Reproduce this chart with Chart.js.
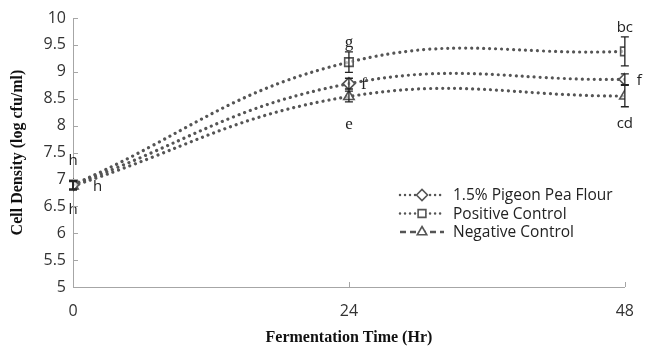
<!DOCTYPE html>
<html>
<head>
<meta charset="utf-8">
<script src="https://cdn.jsdelivr.net/npm/chart.js@4"></script>
<style>
  html, body { margin: 0; padding: 0; background: #fff; }
  #wrap { width: 649px; height: 349px; position: relative; }
</style>
</head>
<body>
<div id="wrap"><canvas id="c"></canvas></div>
<script>
// data
const hours = [0, 24, 48];
const flour = [6.90, 8.78, 8.86];
const positive = [6.90, 9.18, 9.38];
const negative = [6.88, 8.54, 8.55];
const flourErr = [0.08, 0.1, 0.1];
const positiveErr = [0.08, 0.19, 0.27];
const negativeErr = [0.08, 0.1, 0.2];
const flourLetters = ['h', 'f', 'f'];
const positiveLetters = ['h', 'g', 'bc'];
const negativeLetters = ['h', 'e', 'cd'];
const yTicks = [5, 5.5, 6, 6.5, 7, 7.5, 8, 8.5, 9, 9.5, 10];
const seriesNames = ['1.5% Pigeon Pea Flour', 'Positive Control', 'Negative Control'];

const GREY = '#555555';
const sansFont = '"Open Sans", "Liberation Sans", sans-serif';
const serifFont = '"Liberation Serif", "Times New Roman", serif';

const pts = (ys) => hours.map((h, i) => ({ x: h, y: ys[i] }));

const mkSet = (label, ys, style, err, letters, place) => ({
    label,
    data: pts(ys),
    borderColor: GREY,
    borderWidth: 3.2,
    borderDash: [0.01, 6],
    borderCapStyle: 'round',
    tension: 0.42,
    pointStyle: style,
    pointRadius: 6,
    pointHoverRadius: 6,
    pointBorderWidth: 1.6,
    pointBorderColor: GREY,
    pointBackgroundColor: 'rgba(255,255,255,0.6)',
    err, letters, place,
    fill: false
});

// error bars + significance letters
const extras = {
    id: 'extras',
    afterDatasetsDraw(chart) {
        const ctx = chart.ctx;
        const xs = chart.scales.x, ys = chart.scales.y;
        chart.data.datasets.forEach(ds => {
            ds.data.forEach((p, i) => {
                const px = xs.getPixelForValue(p.x);
                const e = ds.err[i];
                const t = ys.getPixelForValue(p.y + e), b = ys.getPixelForValue(p.y - e);
                ctx.save();
                ctx.strokeStyle = '#222';
                ctx.lineWidth = 1.3;
                ctx.beginPath();
                ctx.moveTo(px, t); ctx.lineTo(px, b);
                ctx.moveTo(px - 4, t); ctx.lineTo(px + 4, t);
                ctx.moveTo(px - 4, b); ctx.lineTo(px + 4, b);
                ctx.stroke();
                ctx.restore();
            });
        });
        chart.data.datasets.forEach(ds => {
            ds.data.forEach((p, i) => {
                const px = xs.getPixelForValue(p.x);
                const py = ys.getPixelForValue(p.y);
                const where = ds.place[i];
                ctx.save();
                ctx.fillStyle = '#222';
                ctx.font = (i === 1 ? '17px ' + serifFont : '15px ' + sansFont);
                ctx.textBaseline = 'middle';
                let tx = px, ty = py;
                if (where === 'up') { ctx.textAlign = 'center'; ty = py - (i === 1 ? 20 : 24); }
                else if (where === 'down') { ctx.textAlign = 'center'; ty = py + (i === 0 ? 25 : 28); }
                else { ctx.textAlign = 'left'; tx = px + (i === 0 ? 20 : 12); ty = py + 1; }
                ctx.fillText(ds.letters[i], tx, ty);
                ctx.restore();
            });
        });
    }
};

// inward tick marks on both axes
const inwardTicks = {
    id: 'inwardTicks',
    afterDraw(chart) {
        const ctx = chart.ctx;
        const xs = chart.scales.x, ys = chart.scales.y;
        const a = chart.chartArea;
        ctx.save();
        ctx.strokeStyle = '#a6a6a6';
        ctx.lineWidth = 1;
        ctx.beginPath();
        ys.ticks.forEach(t => {
            const y = Math.round(ys.getPixelForValue(t.value)) + 0.5;
            ctx.moveTo(a.left, y); ctx.lineTo(a.left + 5, y);
        });
        xs.ticks.forEach(t => {
            const x = Math.round(xs.getPixelForValue(t.value)) + 0.5;
            ctx.moveTo(x, a.bottom); ctx.lineTo(x, a.bottom - 5);
        });
        ctx.stroke();
        ctx.restore();
    }
};

// legend with line + marker samples
const sampleLegend = {
    id: 'sampleLegend',
    afterDraw(chart) {
        const ctx = chart.ctx;
        const x0 = 400, y0 = 195, gap = 18.5;
        chart.data.datasets.forEach((ds, i) => {
            const y = y0 + i * gap;
            ctx.save();
            ctx.strokeStyle = GREY;
            ctx.lineWidth = 2.5;
            ctx.lineCap = i === 2 ? 'butt' : 'round';
            ctx.setLineDash(i === 2 ? [6, 4] : [0.01, 5]);
            ctx.beginPath();
            ctx.moveTo(x0, y); ctx.lineTo(x0 + 44, y);
            ctx.stroke();
            ctx.setLineDash([]);
            ctx.fillStyle = '#fff';
            ctx.strokeStyle = GREY;
            ctx.lineWidth = 1.6;
            Chart.helpers.drawPoint(ctx, { pointStyle: ds.pointStyle, radius: 5.5, borderWidth: 1.6 }, x0 + 22, y);
            ctx.fillStyle = '#222';
            ctx.font = '15.5px ' + sansFont;
            ctx.textBaseline = 'middle';
            ctx.textAlign = 'left';
            ctx.fillText(ds.label, x0 + 53, y + 1);
            ctx.restore();
        });
    }
};

new Chart(document.getElementById('c'), {
    type: 'line',
    data: {
        datasets: [
            mkSet(seriesNames[0], flour, 'rectRot', flourErr, flourLetters, ['down', 'right', 'right']),
            mkSet(seriesNames[1], positive, 'rect', positiveErr, positiveLetters, ['up', 'up', 'up']),
            mkSet(seriesNames[2], negative, 'triangle', negativeErr, negativeLetters, ['right', 'down', 'down'])
        ]
    },
    options: {
        responsive: true,
        maintainAspectRatio: false,
        animation: false,
        layout: { padding: { top: 18, right: 24, left: 0, bottom: 0 } },
        plugins: { legend: { display: false }, tooltip: { enabled: false } },
        scales: {
            x: {
                type: 'linear', min: 0, max: 48,
                afterBuildTicks: s => { s.ticks = hours.map(v => ({ value: v })); },
                afterFit: s => { s.height = 62; },
                grid: { display: false, drawTicks: false },
                border: { color: '#a6a6a6' },
                ticks: { color: '#333', font: { family: sansFont, size: 16 }, padding: 15, callback: v => String(v) },
                title: { display: true, text: 'Fermentation Time (Hr)', color: '#111',
                    font: { family: serifFont, size: 16, weight: 'bold' }, padding: { top: 0, bottom: 2 } }
            },
            y: {
                min: 5, max: 10,
                afterBuildTicks: s => { s.ticks = yTicks.map(v => ({ value: v })); },
                afterFit: s => { s.width = 73; },
                grid: { display: false, drawTicks: false },
                border: { color: '#a6a6a6' },
                ticks: { color: '#333', font: { family: sansFont, size: 16 }, padding: 7, callback: v => String(v) },
                title: { display: true, text: 'Cell Density (log cfu/ml)', color: '#111',
                    font: { family: serifFont, size: 16, weight: 'bold' }, padding: { top: 8, bottom: 0 } }
            }
        }
    },
    plugins: [extras, inwardTicks, sampleLegend]
});
</script>
</body>
</html>
